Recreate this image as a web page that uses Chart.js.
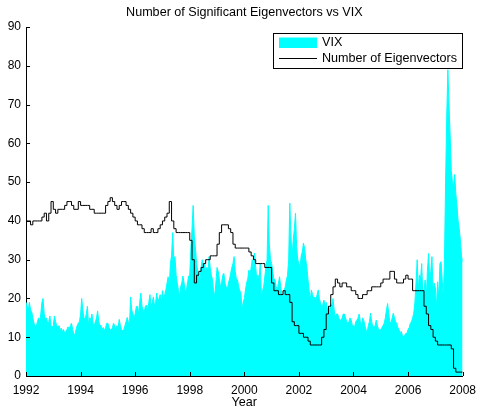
<!DOCTYPE html>
<html>
<head>
<meta charset="utf-8">
<script src="https://cdn.jsdelivr.net/npm/chart.js@4.4.0/dist/chart.umd.min.js"></script>
<style>
html,body{margin:0;padding:0;background:#fff;}
canvas{display:block;}
</style>
</head>
<body>
<canvas id="c" width="483" height="407"></canvas>
<script>
// ---- data ----
const START_YEAR = 1992;
const END_YEAR = 2008;
const xTicks = [1992, 1994, 1996, 1998, 2000, 2002, 2004, 2006, 2008];
const yTicks = [0, 10, 20, 30, 40, 50, 60, 70, 80, 90];

// Number of significant eigenvectors, one value per month (Jan..Dec)
const eig1992 = [37,40,40,39,40,40,40,40,41,42,40,42];
const eig1993 = [45,43,42,43,43,43,44,45,45,44,43,43];
const eig1994 = [45,44,44,44,44,43,43,42,42,42,42,42];
const eig1995 = [44,45,46,45,44,43,44,45,45,44,43,42];
const eig1996 = [41,40,39,39,38,37,37,37,38,37,37,38];
const eig1997 = [39,40,41,42,45,40,38,37,37,37,37,37];
const eig1998 = [37,35,30,24,26,27,28,29,30,30,31,31];
const eig1999 = [31,34,37,39,39,39,38,37,34,33,33,33];
const eig2000 = [33,33,33,32,31,30,29,29,29,29,28,28];
const eig2001 = [28,24,22,22,21,21,22,21,21,19,14,13];
const eig2002 = [13,11,11,10,10,9,8,8,8,8,8,10];
const eig2003 = [12,16,18,21,23,25,24,23,24,24,23,23];
const eig2004 = [22,22,21,20,20,21,21,22,22,23,23,23];
const eig2005 = [23,24,25,25,25,27,27,25,24,24,24,25];
const eig2006 = [26,25,25,22,22,22,22,22,18,16,13,12];
const eig2007 = [10,9,8,8,8,8,8,8,7,2,1,1];
const eigEnd = 1;

// VIX, two readings per month
const vix1992 = [19,18,17,19,17,16.6,15,13.6,13,12.7,14,15,14,16,19,20,16,14.6,15,13.6,14,15.5,13,12.7];
const vix1993 = [13,15.5,14,13,12.7,13,12,12.3,11.5,12,11,11.5,12,12.7,12,13,13.6,12,11,10.4,12,13,13.6,14];
const vix1994 = [16,20,17,15,14.6,16,18,13,15,14.6,16,13.5,13,14,15,16.8,14,13,13,12,12.5,11.6,12.5,13.6];
const vix1995 = [13.6,12.5,12,11.8,12.5,13.6,13,12,13,12.5,14.6,13,12,11.6,12,13,14,15.1,14,13,20.4,17,16,15];
const vix1996 = [16,17.9,18,16,19,21.4,18,17,16.5,18,18.3,17,19,21,18,19,20.4,18,19,21.4,19,20,21,19];
const vix1997 = [22,20,21,22.2,23.9,25.6,22.9,29,31,37,30,30.8,26,24,22.2,20.4,23,24,25.8,24,22,22,24,25.8];
const vix1998 = [26,33,38,44,36,33,29,27,26,24.8,28,30,27,29,26.5,28,27,30.8,28,26,24.8,22,20.4,24];
const vix1999 = [28,27,25,23,24,26,26.5,24,23,22.2,24,25,26.5,28,29,30.8,27,25,24.8,23,22,21.4,17,19];
const vix2000 = [20,22.2,24,25,27.3,26,28,30,27,31.7,28,24.8,26,25,29,20.4,22,23,25.6,28,30,44,34,30];
const vix2001 = [29,27,25,24.8,23,22.2,24,25.6,23,21,20.4,22,23,24.8,26,30,44.6,36,30.8,35,38,42,33.3,30];
const vix2002 = [29,28,31,32,34.3,33,30,28,24.8,22,19.6,22.2,21,20,20.4,19.6,21,22.2,20,18.8,17.9,18.5,19.6,18];
const vix2003 = [19,17,18,17,18.5,17.9,20,17,15.3,16,16,15,14.4,14.4,15,16,16,15,14,13.6,14,15,14.4,13];
const vix2004 = [13,12.7,14,14.4,15,16,14,12.7,15,14.4,13,12,11,13,14,16.2,14,12.7,12.7,13,14.4,13,12,11.9];
const vix2005 = [11.9,12.5,13,13.6,15,17,18.7,16,14,13.6,15,16.2,15,14,13.6,12.5,12,11,11.5,10.5,10.1,10.5,11,11];
const vix2006 = [12,12.5,13.6,14,15,16.2,19,24,30,22.2,26,25,29,20.4,22,24.8,20,27,31.6,24.8,27,30.8,22.2,24];
const vix2007 = [22.7,17.5,24.3,20,29,29.5,24.8,19.6,30,50,67,79,70,62,53,50,49,52,47,44,40,38,35,31];
const vixEnd = 29.5;

const eigAll = [].concat(eig1992,eig1993,eig1994,eig1995,eig1996,eig1997,eig1998,eig1999,
  eig2000,eig2001,eig2002,eig2003,eig2004,eig2005,eig2006,eig2007,[eigEnd]);
const vixAll = [].concat(vix1992,vix1993,vix1994,vix1995,vix1996,vix1997,vix1998,vix1999,
  vix2000,vix2001,vix2002,vix2003,vix2004,vix2005,vix2006,vix2007,[vixEnd]);

const eigPoints = eigAll.map((v, i) => ({x: START_YEAR + i / 12, y: v}));
const vixPoints = vixAll.map((v, i) => ({x: START_YEAR + i / 24, y: v}));

const FONT = '"Liberation Sans", Arial, Helvetica, sans-serif';

const inwardTicks = {
  id: 'inwardTicks',
  afterDatasetsDraw(chart) {
    const c = chart.ctx, xs = chart.scales.x, ys = chart.scales.y;
    const a = chart.chartArea;
    c.save();
    c.strokeStyle = '#000';
    c.lineWidth = 1;
    c.beginPath();
    xTicks.forEach(t => {
      const px = Math.round(xs.getPixelForValue(t)) + 0.5;
      c.moveTo(px, a.bottom); c.lineTo(px, a.bottom - 4);
    });
    yTicks.forEach(t => {
      const py = Math.round(ys.getPixelForValue(t)) + 0.5;
      c.moveTo(a.left, py); c.lineTo(a.left + 4, py);
    });
    c.stroke();
    c.restore();
  },
  afterDraw(chart) {
    // legend box in the upper right of the axes
    const c = chart.ctx;
    c.save();
    const x0 = 273.5, y0 = 33.5, w = 189, h = 35;
    c.fillStyle = '#fff';
    c.fillRect(x0, y0, w, h);
    c.strokeStyle = '#000';
    c.lineWidth = 1;
    c.strokeRect(x0, y0, w, h);
    c.fillStyle = '#00FFFF';
    c.fillRect(279, 37.5, 38, 10.5);
    c.beginPath();
    c.moveTo(279, 58.5); c.lineTo(317, 58.5);
    c.stroke();
    c.fillStyle = '#000';
    c.font = '12.6px ' + FONT;
    c.textBaseline = 'middle';
    c.textAlign = 'left';
    c.fillText(chart.data.datasets[1].label, 322, 43);
    c.fillText(chart.data.datasets[0].label, 322, 58.5);
    c.restore();
  }
};

new Chart(document.getElementById('c'), {
  type: 'line',
  data: {
    datasets: [
      { label: 'Number of Eigenvectors', data: eigPoints, borderColor: '#000', borderWidth: 1,
        stepped: 'after', pointRadius: 0, fill: false, order: 0 },
      { label: 'VIX', data: vixPoints, borderColor: '#00FFFF', backgroundColor: '#00FFFF',
        borderWidth: 1, pointRadius: 0, fill: 'origin', tension: 0, order: 1 }
    ]
  },
  options: {
    responsive: false,
    animation: false,
    devicePixelRatio: 1,
    layout: { padding: { left: 0, right: 15, top: 0, bottom: 0 } },
    plugins: {
      legend: { display: false },
      tooltip: { enabled: false },
      title: {
        display: true, text: 'Number of Significant Eigenvectors vs VIX', fullSize: false,
        color: '#000', font: { family: FONT, size: 12.6, weight: 'normal' },
        padding: { top: 5, bottom: 7 }
      }
    },
    scales: {
      x: {
        type: 'linear', min: START_YEAR, max: END_YEAR,
        afterBuildTicks: s => { s.ticks = xTicks.map(v => ({ value: v })); },
        ticks: { color: '#000', font: { family: FONT, size: 12 }, padding: 7, maxRotation: 0,
          autoSkip: false, callback: v => String(v) },
        grid: { display: false, drawTicks: false },
        border: { display: true, color: '#000', width: 1 },
        title: { display: true, text: 'Year', color: '#000', font: { family: FONT, size: 12.6 },
          padding: { top: 0, bottom: -3 } },
        afterFit: s => { s.height = 31; }
      },
      y: {
        min: 0, max: 90,
        afterBuildTicks: s => { s.ticks = yTicks.map(v => ({ value: v })); },
        ticks: { color: '#000', font: { family: FONT, size: 12 }, padding: 5, callback: v => String(v) },
        grid: { display: false, drawTicks: false },
        border: { display: true, color: '#000', width: 1 },
        afterFit: s => { s.width = 26; }
      }
    }
  },
  plugins: [inwardTicks]
});
</script>
</body>
</html>
